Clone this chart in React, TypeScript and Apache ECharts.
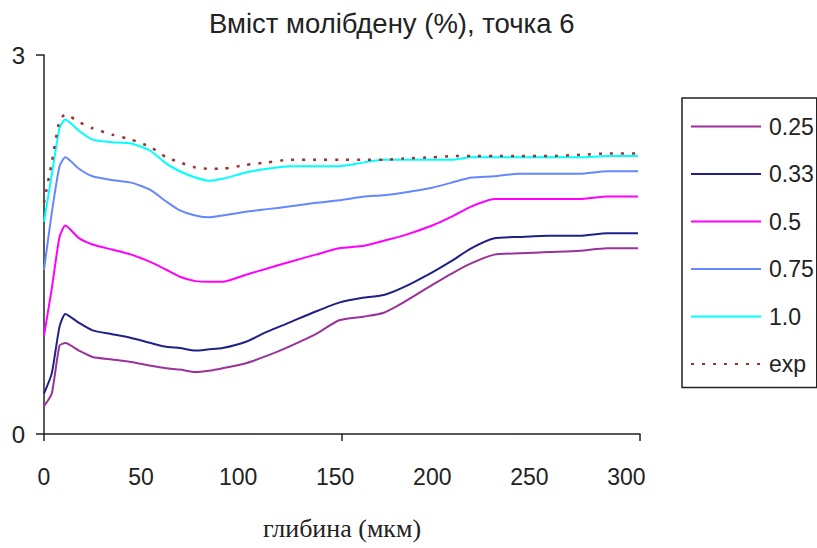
import React, { useEffect, useRef } from "react";
import * as echarts from "echarts";

const depth = [0, 4, 8, 11, 18, 25, 35, 45, 55, 63, 70, 78, 85, 92, 104, 115, 126, 140, 152, 165, 175, 185, 200, 210, 220, 232, 245, 260, 276, 290, 306];
const s025 = [0.22, 0.32, 0.70, 0.72, 0.66, 0.61, 0.59, 0.57, 0.54, 0.52, 0.51, 0.49, 0.50, 0.52, 0.56, 0.62, 0.69, 0.79, 0.90, 0.93, 0.96, 1.04, 1.18, 1.27, 1.35, 1.42, 1.43, 1.44, 1.45, 1.47, 1.47];
const s033 = [0.32, 0.48, 0.85, 0.95, 0.88, 0.82, 0.79, 0.76, 0.72, 0.69, 0.68, 0.66, 0.67, 0.68, 0.73, 0.81, 0.88, 0.97, 1.04, 1.08, 1.10, 1.16, 1.28, 1.37, 1.47, 1.55, 1.56, 1.57, 1.57, 1.59, 1.59];
const s05 = [0.78, 1.15, 1.56, 1.65, 1.55, 1.50, 1.46, 1.42, 1.36, 1.30, 1.245, 1.21, 1.205, 1.205, 1.26, 1.31, 1.36, 1.42, 1.47, 1.49, 1.53, 1.57, 1.65, 1.72, 1.80, 1.86, 1.86, 1.86, 1.86, 1.88, 1.88];
const s075 = [1.30, 1.75, 2.12, 2.19, 2.10, 2.04, 2.01, 1.99, 1.93, 1.84, 1.77, 1.73, 1.715, 1.73, 1.76, 1.78, 1.80, 1.83, 1.85, 1.88, 1.89, 1.91, 1.95, 1.99, 2.03, 2.04, 2.06, 2.06, 2.06, 2.08, 2.08];
const s10 = [1.68, 2.05, 2.42, 2.49, 2.40, 2.33, 2.31, 2.30, 2.24, 2.14, 2.08, 2.03, 2.005, 2.02, 2.07, 2.10, 2.12, 2.12, 2.12, 2.15, 2.17, 2.17, 2.17, 2.17, 2.19, 2.19, 2.19, 2.19, 2.19, 2.20, 2.20];
const sExp = [1.83, 2.15, 2.48, 2.53, 2.47, 2.42, 2.37, 2.33, 2.27, 2.19, 2.15, 2.11, 2.10, 2.10, 2.13, 2.15, 2.17, 2.17, 2.17, 2.17, 2.17, 2.18, 2.19, 2.20, 2.20, 2.20, 2.20, 2.20, 2.21, 2.22, 2.22];

const seriesNames = ["0.25", "0.33", "0.5", "0.75", "1.0", "exp"];
const seriesValues = [s025, s033, s05, s075, s10, sExp];
const seriesColors = ["#993399", "#202088", "#ff00ff", "#6688ff", "#00ffff", "#993333"];

const title = "Вміст молібдену (%), точка 6";
const xName = "глибина (мкм)";

const sans = "'Liberation Sans', Arial, sans-serif";

export default function App() {
  const ref = useRef<HTMLDivElement>(null);
  useEffect(() => {
    if (!ref.current) return;
    const chart = echarts.init(ref.current, null, { renderer: "svg" });
    chart.setOption({
      animation: false,
      backgroundColor: "#ffffff",
      title: {
        text: title,
        left: 204,
        top: 4,
        textStyle: { fontFamily: sans, fontSize: 27.5, fontWeight: "normal", color: "#222" },
      },
      grid: { left: 44, right: 177, top: 55, bottom: 114, containLabel: false },
      legend: {
        orient: "vertical",
        left: 682,
        top: 98,
        padding: [17, 3, 12, 8],
        itemWidth: 70,
        itemHeight: 20,
        itemGap: 24.5,
        borderColor: "#222",
        borderWidth: 1.5,
        itemStyle: { opacity: 0 },
        textStyle: { fontFamily: sans, fontSize: 23, color: "#222", padding: [0, 0, 0, 3] },
        data: seriesNames,
      },
      xAxis: [
        {
          type: "value",
          min: 0,
          max: 307,
          interval: 50,
          name: xName,
          nameLocation: "middle",
          nameGap: 81,
          nameTextStyle: { fontFamily: "'Liberation Serif', 'Times New Roman', serif", fontSize: 26, color: "#222" },
          axisLine: { show: true, lineStyle: { color: "#222", width: 1.5 } },
          axisTick: { show: false },
          splitLine: { show: false },
          axisLabel: { showMaxLabel: false, margin: 31, fontFamily: sans, fontSize: 23, color: "#222" },
        },
        {
          type: "value",
          min: 0,
          max: 2,
          interval: 1,
          position: "bottom",
          axisLine: { show: false },
          axisTick: { show: true, length: 7, lineStyle: { color: "#222", width: 1.5 } },
          axisLabel: { show: false },
          splitLine: { show: false },
        },
      ],
      yAxis: {
        type: "value",
        min: 0,
        max: 3,
        interval: 3,
        axisLine: { show: true, lineStyle: { color: "#222", width: 1.5 } },
        axisTick: { show: true, length: 8, lineStyle: { color: "#222", width: 1.5 } },
        splitLine: { show: false },
        axisLabel: { margin: 19, fontFamily: sans, fontSize: 24, color: "#222" },
      },
      series: seriesNames.map((name, i) => ({
        name,
        type: "line",
        xAxisIndex: 0,
        symbol: "none",
        smooth: 0.2,
        color: seriesColors[i],
        lineStyle: { color: seriesColors[i], width: name === "exp" ? 2.5 : 2, type: name === "exp" ? [3, 8] : "solid" },
        data: depth.map((d, j) => [d, seriesValues[i][j]]),
        z: name === "exp" ? 3 : 2,
      })),
    });
    return () => chart.dispose();
  }, []);
  return <div ref={ref} style={{ position: "fixed", left: 0, top: 0, width: 817, height: 548 }} />;
}
